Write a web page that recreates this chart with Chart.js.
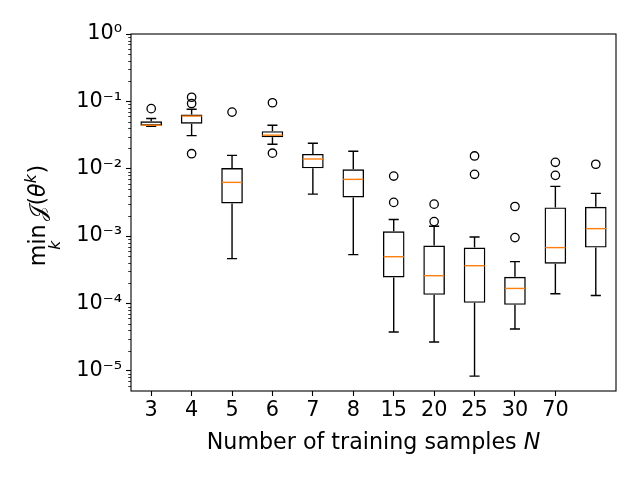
<!DOCTYPE html>
<html>
<head>
<meta charset="utf-8">
<script src="https://cdn.jsdelivr.net/npm/chart.js@4.4.1/dist/chart.umd.min.js"></script>
<style>
  html, body { margin: 0; padding: 0; background: #fff; }
  #wrap { width: 640px; height: 480px; }
</style>
</head>
<body>
<div id="wrap"><canvas id="boxes" width="640" height="480"></canvas></div>
<script>
// number of training samples (the last box has no label in the original)
const sampleLabels = ['3', '4', '5', '6', '7', '8', '15', '20', '25', '30', '70', ''];

// box statistics
const whiskerLow  = [0.0427, 0.031, 0.000462, 0.0231, 0.0042, 0.00053, 3.77e-5, 2.68e-5, 8.34e-6, 4.18e-5, 0.000139, 0.000131];
const quartile1   = [0.0436, 0.0467, 0.00305, 0.0294, 0.01014, 0.00375, 0.000243, 0.000134, 0.000102, 9.53e-5, 0.000389, 0.000674];
const medians     = [0.0442, 0.0604, 0.00627, 0.0315, 0.01395, 0.00695, 0.000494, 0.000258, 0.000363, 0.000167, 0.000674, 0.00129];
const quartile3   = [0.0507, 0.0638, 0.01023, 0.0361, 0.01656, 0.0098, 0.00118, 0.000722, 0.000674, 0.000249, 0.00266, 0.00272];
const whiskerHigh = [0.0557, 0.0762, 0.0158, 0.0443, 0.0239, 0.01816, 0.00176, 0.0014, 0.00097, 0.000417, 0.00547, 0.0043];
const fliers = [
    [0.078],
    [0.115, 0.093, 0.0167],
    [0.0693],
    [0.0953, 0.017],
    [],
    [],
    [0.00778, 0.00316],
    [0.00298, 0.00164],
    [0.01546, 0.00826],
    [0.00275, 0.00095],
    [0.01245, 0.00797],
    [0.01164]
];

const yTickValues = [1e-5, 1e-4, 1e-3, 1e-2, 1e-1, 1];
const yTickLabels = ['10⁻⁵', '10⁻⁴', '10⁻³', '10⁻²', '10⁻¹', '10⁰'];
const yMin = Math.pow(10, -5.3);
const yMax = 1;

const MEDIAN_COLOR = '#ff7f0e';
const TICK_FONT = 20.8;
const LABEL_FONT = 22.2;

Chart.defaults.font.family = "'DejaVu Sans', sans-serif";
Chart.defaults.color = '#000';

// whiskers, caps, medians, frame, minor ticks and the two axis titles
const boxPartsPlugin = {
    id: 'boxParts',
    afterDatasetsDraw(chart) {
        const { ctx, scales: { x, y } } = chart;
        const band = x.getPixelForValue(1) - x.getPixelForValue(0);
        const capHalf = band * 0.125;
        const boxHalf = band * 0.25;

        ctx.save();
        ctx.lineWidth = 1.4;
        ctx.lineCap = 'butt';
        for (let i = 0; i < medians.length; i++) {
            const cx = x.getPixelForValue(i);
            ctx.strokeStyle = '#000';
            ctx.beginPath();
            ctx.moveTo(cx, y.getPixelForValue(quartile1[i]));
            ctx.lineTo(cx, y.getPixelForValue(whiskerLow[i]));
            ctx.moveTo(cx, y.getPixelForValue(quartile3[i]));
            ctx.lineTo(cx, y.getPixelForValue(whiskerHigh[i]));
            const yl = y.getPixelForValue(whiskerLow[i]);
            const yh = y.getPixelForValue(whiskerHigh[i]);
            ctx.moveTo(cx - capHalf, yl);
            ctx.lineTo(cx + capHalf, yl);
            ctx.moveTo(cx - capHalf, yh);
            ctx.lineTo(cx + capHalf, yh);
            ctx.stroke();

            const ym = y.getPixelForValue(medians[i]);
            ctx.strokeStyle = MEDIAN_COLOR;
            ctx.beginPath();
            ctx.moveTo(cx - boxHalf, ym);
            ctx.lineTo(cx + boxHalf, ym);
            ctx.stroke();
        }
        ctx.restore();
    },
    afterDraw(chart) {
        const { ctx, chartArea, scales: { y } } = chart;
        ctx.save();

        // frame
        ctx.strokeStyle = '#000';
        ctx.lineWidth = 1.1;
        ctx.strokeRect(chartArea.left, chartArea.top, chartArea.right - chartArea.left, chartArea.bottom - chartArea.top);

        // minor log ticks
        ctx.lineWidth = 0.8;
        ctx.beginPath();
        for (let e = -6; e < 0; e++) {
            for (let m = 2; m <= 9; m++) {
                const v = m * Math.pow(10, e);
                if (v < yMin || v > yMax) continue;
                const py = Math.round(y.getPixelForValue(v)) + 0.5;
                ctx.moveTo(chartArea.left - 2.8, py);
                ctx.lineTo(chartArea.left, py);
            }
        }
        ctx.stroke();

        ctx.fillStyle = '#000';
        ctx.textBaseline = 'alphabetic';
        ctx.textAlign = 'left';

        // x axis title
        const normal = `${LABEL_FONT}px 'DejaVu Sans'`;
        const italic = `italic ${LABEL_FONT}px 'DejaVu Sans'`;
        const xText = 'Number of training samples ';
        ctx.font = normal;
        const w1 = ctx.measureText(xText).width;
        ctx.font = italic;
        const w2 = ctx.measureText('N').width;
        const xc = (chartArea.left + chartArea.right) / 2;
        let sx = xc - (w1 + w2) / 2;
        ctx.font = normal;
        ctx.fillText(xText, sx, 449);
        ctx.font = italic;
        ctx.fillText('N', sx + w1, 449);

        // y axis title: min_k J(theta^k)
        const small = LABEL_FONT * 0.7;
        const parts = [
            { t: 'min', font: normal, v: 0 },
            { t: '𝒥', font: `${LABEL_FONT}px 'DejaVu Sans', 'DejaVu Serif', serif`, v: 0, gap: LABEL_FONT * 0.17 },
            { t: '(', font: normal, v: 0 },
            { t: 'θ', font: italic, v: 0 },
            { t: 'k', font: `italic ${small}px 'DejaVu Sans'`, v: -LABEL_FONT * 0.42 },
            { t: ')', font: normal, v: 0, gap: LABEL_FONT * 0.04 }
        ];
        let total = 0;
        parts.forEach(p => {
            ctx.font = p.font;
            p.w = ctx.measureText(p.t).width;
            total += p.w + (p.gap || 0);
        });
        ctx.translate(45, (chartArea.top + chartArea.bottom) / 2 + 3);
        ctx.rotate(-Math.PI / 2);
        let u = -total / 2;
        parts.forEach((p, idx) => {
            u += p.gap || 0;
            ctx.font = p.font;
            ctx.fillText(p.t, u, p.v);
            if (idx === 0) {
                // subscript k centred under "min"
                ctx.font = `italic ${small}px 'DejaVu Sans'`;
                const wk = ctx.measureText('k').width;
                ctx.fillText('k', u + p.w / 2 - wk / 2, LABEL_FONT * 0.66);
            }
            u += p.w;
        });
        ctx.restore();
    }
};

// outliers use the category label as x so they land on their own box
const flierPoints = [];
fliers.forEach((list, i) => list.forEach(v => flierPoints.push({ x: sampleLabels[i], y: v })));

const canvas = document.querySelector('#boxes');
new Chart(canvas, {
    type: 'bar',
    data: {
        labels: sampleLabels,
        datasets: [
            {
                type: 'bar',
                data: quartile1.map((q, i) => [q, quartile3[i]]),
                backgroundColor: 'rgba(0,0,0,0)',
                borderColor: '#000',
                borderWidth: 1.4,
                borderSkipped: false,
                barPercentage: 0.535,
                categoryPercentage: 1,
                order: 2
            },
            {
                type: 'scatter',
                data: flierPoints,
                pointStyle: 'circle',
                pointRadius: 4.2,
                pointHoverRadius: 4.2,
                borderWidth: 1.3,
                borderColor: '#000',
                backgroundColor: 'rgba(0,0,0,0)',
                order: 1
            }
        ]
    },
    options: {
        responsive: false,
        animation: false,
        devicePixelRatio: 1,
        layout: { padding: { top: 34, right: 24, left: 0, bottom: 0 } },
        scales: {
            x: {
                type: 'category',
                offset: true,
                border: { display: false },
                grid: {
                    offset: false,
                    drawOnChartArea: false,
                    drawTicks: true,
                    tickLength: 5,
                    tickWidth: 1.1,
                    tickColor: ctx => ctx.index === 11 ? 'rgba(0,0,0,0)' : '#000'
                },
                ticks: {
                    font: { size: TICK_FONT },
                    color: '#000',
                    padding: 2,
                    maxRotation: 0,
                    autoSkip: false
                },
                afterFit: scale => { scale.height = 89; }
            },
            y: {
                type: 'logarithmic',
                min: yMin,
                max: yMax,
                border: { display: false },
                grid: {
                    drawOnChartArea: false,
                    drawTicks: true,
                    tickLength: 5,
                    tickWidth: 1.1,
                    tickColor: '#000'
                },
                afterBuildTicks: scale => {
                    scale.ticks = yTickValues.map(v => ({ value: v }));
                },
                ticks: {
                    font: { size: TICK_FONT },
                    color: '#000',
                    padding: 4,
                    autoSkip: false,
                    callback: (value, index) => yTickLabels[index]
                },
                afterFit: scale => { scale.width = 131; }
            }
        },
        plugins: {
            legend: { display: false },
            tooltip: { enabled: false }
        }
    },
    plugins: [boxPartsPlugin]
});
</script>
</body>
</html>
